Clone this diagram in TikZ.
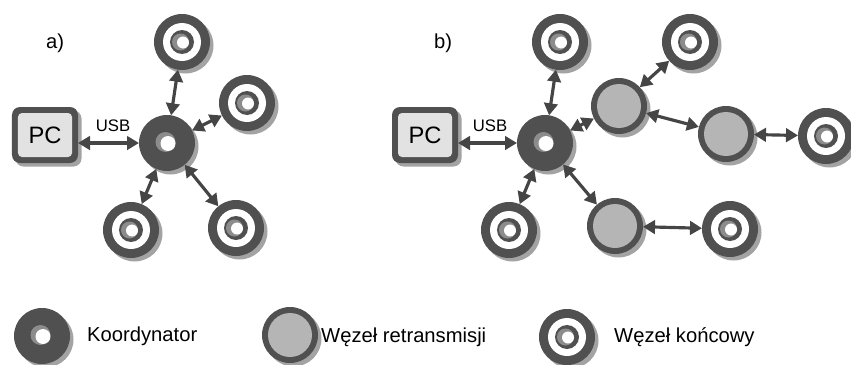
\documentclass[tikz,border=0pt]{standalone}
\usepackage{fontspec}
\setmainfont{Liberation Sans}
\usetikzlibrary{arrows.meta,positioning,shadows}

\definecolor{dkgray}{HTML}{505050}
\definecolor{midgray}{HTML}{8C8C8C}
\definecolor{relaygray}{HTML}{B5B5B5}
\definecolor{pcgray}{HTML}{E2E2E2}
\definecolor{shadegray}{HTML}{A3A3A3}
\definecolor{linkgray}{HTML}{454545}

\begin{document}
\begin{tikzpicture}[
    shade/.style={drop shadow={shadow xshift=0.07cm, shadow yshift=-0.07cm, fill=shadegray, opacity=1}},
    coord/.style={circle, minimum size=1.12cm, inner sep=0pt, outer sep=0pt, fill=dkgray, shade,
        path picture={
            \fill[midgray] ([shift={(-0.03,0.02)}]path picture bounding box.center) circle (0.2);
            \fill[white] ([shift={(0.02,-0.01)}]path picture bounding box.center) circle (0.15);
        }},
    endnode/.style={circle, minimum size=1.12cm, inner sep=0pt, outer sep=0pt, fill=dkgray, shade,
        path picture={
            \fill[white] (path picture bounding box.center) circle (0.38);
            \fill[dkgray] (path picture bounding box.center) circle (0.24);
            \fill[midgray] ([xshift=-0.03cm]path picture bounding box.center) circle (0.17);
            \fill[white] ([shift={(0.02,-0.01)}]path picture bounding box.center) circle (0.12);
        }},
    relay/.style={circle, minimum size=1.12cm, inner sep=0pt, outer sep=0pt, fill=dkgray, shade,
        path picture={
            \fill[relaygray] (path picture bounding box.center) circle (0.44);
        }},
    pcbox/.style={rectangle, rounded corners=0.16cm, minimum width=1.32cm, minimum height=1.12cm,
        inner sep=0pt, outer sep=0pt, fill=dkgray, shade, font=\fontsize{13.5}{15}\selectfont,
        path picture={
            \fill[pcgray, rounded corners=0.08cm]
                ([shift={(0.12,0.12)}]path picture bounding box.south west) rectangle
                ([shift={(-0.12,-0.12)}]path picture bounding box.north east);
        }},
    link/.style={draw=linkgray, line width=1.8pt,
        {Triangle[length=0.24cm, width=0.27cm]}-{Triangle[length=0.24cm, width=0.27cm]}},
    lbl/.style={font=\fontsize{11.5}{13}\selectfont},
    usb/.style={font=\fontsize{9.5}{11}\selectfont},
]
\useasboundingbox (0,0) rectangle (17.02,-7.30);

% Panel a)
\node[lbl] (capa) at (1.10,-0.86) {a)};
\node[pcbox] (pca) at (0.90,-2.70) {PC};
\node[coord] (ca) at (3.34,-2.86) {};
\node[endnode] (ea1) at (3.64,-0.84) {};
\node[endnode] (ea2) at (4.94,-2.06) {};
\node[endnode] (ea3) at (2.62,-4.60) {};
\node[endnode] (ea4) at (4.72,-4.56) {};

\draw[link] (pca.east |- ca) -- (ca);
\node[usb] (usba) at (2.26,-2.52) {USB};
\draw[link] (ca) -- (ea1);
\draw[link] (ca) -- (ea2);
\draw[link] (ca) -- (ea3);
\draw[link] (ca) -- (ea4);

% Panel b)
\node[lbl] (capb) at (8.86,-0.86) {b)};
\node[pcbox] (pcb) at (8.50,-2.70) {PC};
\node[coord] (cb) at (10.90,-2.86) {};
\node[endnode] (eb1) at (11.20,-0.84) {};
\node[endnode] (eb2) at (10.18,-4.60) {};
\node[relay] (rb1) at (12.38,-2.12) {};
\node[relay] (rb2) at (14.52,-2.68) {};
\node[relay] (rb3) at (12.30,-4.52) {};
\node[endnode] (eb3) at (13.80,-0.84) {};
\node[endnode] (eb4) at (16.52,-2.72) {};
\node[endnode] (eb5) at (14.60,-4.58) {};

\draw[link] (pcb.east |- cb) -- (cb);
\node[usb] (usbb) at (9.80,-2.52) {USB};
\draw[link] (cb) -- (eb1);
\draw[link] (cb) -- (eb2);
\draw[link] (cb) -- (rb1);
\draw[link] (cb) -- (rb3);
\draw[link] (rb1) -- (eb3);
\draw[link] (rb1) -- (rb2);
\draw[link] (rb2) -- (eb4);
\draw[link] (rb3) -- (eb5);

% Legend
\node[coord] (lgc) at (0.84,-6.72) {};
\node[lbl, anchor=west] (lgct) at (1.62,-6.72) {Koordynator};
\node[relay] (lgr) at (5.80,-6.70) {};
\node[lbl, anchor=west] (lgrt) at (6.30,-6.74) {Węzeł retransmisji};
\node[endnode] (lge) at (11.34,-6.74) {};
\node[lbl, anchor=west] (lget) at (12.16,-6.74) {Węzeł końcowy};

\end{tikzpicture}
\end{document}
